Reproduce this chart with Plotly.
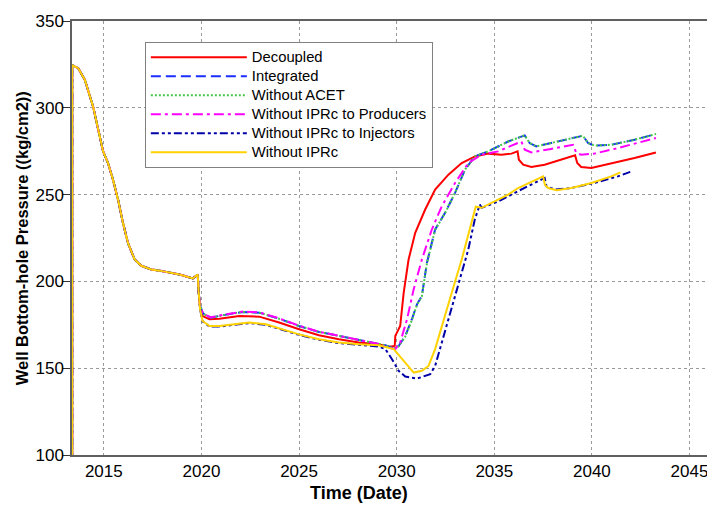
import plotly.graph_objects as go

# Shared early history (all cases identical before 2019.8)
hist_years = [2013.38, 2013.38, 2013.69, 2014.03, 2014.45, 2014.71, 2014.96, 2015.22, 2015.47,
              2015.73, 2015.98, 2016.24, 2016.58, 2016.92, 2017.43, 2017.86, 2018.88, 2019.56,
              2019.69, 2019.81]
hist_values = [0, 324.5, 322.8, 316, 300.7, 287, 275, 268, 258.6,
               247, 233.7, 222, 212.6, 209, 206.9, 206.2, 204, 201.7,
               202.7, 204]

decoupled_years = [2019.86, 2019.93, 2020.06, 2020.41, 2020.92, 2021.94, 2022.96, 2023.98, 2025.0,
                   2026.02, 2027.04, 2028.06, 2029.08, 2029.59, 2029.9, 2029.93, 2030.18, 2030.36,
                   2030.61, 2030.95, 2031.46, 2031.97, 2032.65, 2033.33, 2034.01, 2034.69, 2035.37,
                   2035.88, 2036.19, 2036.26, 2036.48, 2036.9, 2037.58, 2038.43, 2039.14, 2039.25,
                   2039.45, 2039.97, 2040.99, 2042.18, 2043.28]
decoupled_values = [193.5, 185, 180, 178.2, 178.5, 180, 179.7, 176.3, 172.4,
                    169, 166.7, 164.8, 163.8, 162.3, 162.8, 168.6, 174.3, 193.5,
                    212.6, 228, 241.4, 252.9, 261.5, 268.2, 272, 273.6, 273,
                    273.6, 274.9, 270.1, 267.2, 265.9, 267.2, 270.1, 272.6, 268.2,
                    265.9, 265.3, 267.8, 271.1, 274.3]

integrated_years = [2019.86, 2019.93, 2020.06, 2020.15, 2020.49, 2021.08, 2022.1, 2022.96, 2023.98,
                    2025.0, 2026.02, 2027.04, 2028.06, 2029.08, 2029.42, 2029.85, 2030.1, 2030.44,
                    2030.78, 2031.04, 2031.29, 2031.55, 2031.97, 2032.48, 2032.99, 2033.5, 2034.01,
                    2034.69, 2035.71, 2036.56, 2036.81, 2037.15, 2037.91, 2038.78, 2039.54, 2039.8,
                    2040.13, 2040.99, 2042.18, 2043.28]
integrated_values = [193.5, 186, 182, 181, 179.1, 180.5, 182.4, 182, 178.5,
                     174.3, 170.9, 168.6, 166.3, 163.8, 163.2, 161.3, 162.8, 168.6,
                     178.2, 186.8, 191.6, 210.8, 229.9, 239.5, 251, 264.4, 272,
                     274.9, 280.6, 284.1, 279.7, 277.8, 279.7, 281.6, 283.9, 279.7,
                     278.2, 278.7, 281.6, 284.9]

no_acet_years = [2019.86, 2019.93, 2020.06, 2020.15, 2020.49, 2021.08, 2022.1, 2022.96, 2023.98,
                 2025.0, 2026.02, 2027.04, 2028.06, 2029.08, 2029.42, 2029.85, 2030.1, 2030.44,
                 2030.78, 2031.04, 2031.29, 2031.55, 2031.97, 2032.48, 2032.99, 2033.5, 2034.01,
                 2034.69, 2035.71, 2036.56, 2036.81, 2037.15, 2037.91, 2038.78, 2039.54, 2039.8,
                 2040.13, 2040.99, 2042.18, 2043.28]
no_acet_values = [193.5, 186, 182, 181, 179.1, 180.5, 182.4, 182, 178.5,
                  174.3, 170.9, 168.6, 166.3, 163.8, 163.2, 161.3, 162.6, 168.2,
                  177.8, 186.5, 191.4, 210.5, 229.7, 239.4, 251, 264.4, 272,
                  274.9, 280.6, 284.1, 279.7, 277.8, 279.7, 281.6, 283.9, 279.7,
                  278.2, 278.7, 281.6, 284.9]

no_iprc_prod_years = [2019.86, 2019.93, 2020.06, 2020.15, 2020.49, 2021.08, 2022.1, 2022.96, 2023.98,
                      2025.0, 2026.02, 2027.04, 2028.06, 2029.08, 2029.5, 2029.93, 2030.18, 2030.53,
                      2030.87, 2031.29, 2031.8, 2032.31, 2032.99, 2033.67, 2034.35, 2035.2, 2035.88,
                      2036.39, 2036.56, 2036.9, 2037.91, 2039.03, 2039.2, 2039.45, 2040.13, 2041.33,
                      2043.28]
no_iprc_prod_values = [193.5, 186, 182, 181, 179.3, 180.7, 182.6, 182.2, 178.7,
                       174.5, 171, 168.7, 166.4, 163.9, 162, 161, 164.8, 178.2,
                       195.4, 212.6, 229.9, 243.3, 256.7, 268.2, 273, 274.9, 278.2,
                       280.6, 275.9, 274.3, 276.3, 278.7, 274, 273, 273.6, 276.8,
                       282.6]

no_iprc_inj_years = [2019.86, 2019.93, 2020.06, 2020.41, 2020.92, 2021.6, 2022.45, 2023.3, 2024.15,
                     2025.0, 2026.02, 2027.04, 2028.06, 2029.08, 2029.42, 2029.76, 2030.1, 2030.44,
                     2031.04, 2031.72, 2031.97, 2032.22, 2032.65, 2033.16, 2033.67, 2034.0, 2034.26,
                     2034.35, 2035.2, 2036.22, 2037.33, 2037.58, 2037.67, 2038.1, 2038.95, 2040.13,
                     2041.33, 2042.04]
no_iprc_inj_values = [193.5, 184, 177, 174, 174, 175, 176, 175, 172,
                      169.2, 166.4, 164.5, 163.5, 162.5, 161, 155.2, 148.5, 145.2,
                      144, 146.6, 151.3, 161, 178.2, 197.3, 218.4, 235.6, 244.3,
                      242.4, 246, 252, 258.6, 259.6, 254.8, 252.9, 253.8, 256.7,
                      260.5, 263.4]

no_iprc_years = [2019.86, 2019.93, 2020.06, 2020.41, 2020.92, 2021.6, 2022.45, 2023.3, 2024.15,
                 2025.0, 2026.02, 2027.04, 2028.06, 2029.08, 2029.85, 2030.27, 2030.87, 2031.29,
                 2031.63, 2031.97, 2032.31, 2032.82, 2033.33, 2033.98, 2034.05, 2034.35, 2035.03,
                 2035.71, 2036.22, 2037.07, 2037.5, 2037.59, 2037.76, 2038.19, 2038.95, 2039.97,
                 2040.99, 2041.46]
no_iprc_values = [193.5, 184, 177.2, 174.3, 174.3, 175.3, 176.3, 175.3, 172.4,
                  169.5, 166.7, 164.8, 163.8, 163.2, 161, 155.2, 147.5, 148.5,
                  151.3, 161, 174.3, 193.5, 212.6, 241.4, 243, 242.4, 246,
                  250, 253.8, 258.2, 260.5, 255.7, 253.8, 252.5, 253.8, 256.7,
                  260.5, 262.8]

x_ticks = [2015, 2020, 2025, 2030, 2035, 2040, 2045]
y_ticks = [100, 150, 200, 250, 300, 350]

series = [
    ("Decoupled", decoupled_years, decoupled_values, "#FF0000", "solid"),
    ("Integrated", integrated_years, integrated_values, "#1A2EFF", "10px,5px"),
    ("Without ACET", no_acet_years, no_acet_values, "#45C845", "2px,2px"),
    ("Without IPRc to Producers", no_iprc_prod_years, no_iprc_prod_values, "#FF00FF", "10px,4px,3px,4px"),
    ("Without IPRc to Injectors", no_iprc_inj_years, no_iprc_inj_values, "#0000A8", "8px,3px,3px,3px,3px,3px"),
    ("Without IPRc", no_iprc_years, no_iprc_values, "#FFD200", "solid"),
]

fig = go.Figure()
for name, yrs, vals, color, dash in series:
    fig.add_trace(go.Scatter(
        x=hist_years + yrs, y=hist_values + vals, mode="lines",
        name='<span style="font-size:14.8px">' + name + '</span>',
        line=dict(color=color, width=2, dash=dash),
    ))

font_main = "Arial, 'Liberation Sans', sans-serif"
fig.update_layout(
    width=707, height=504,
    margin=dict(l=64, r=2, t=13, b=57),
    paper_bgcolor="white", plot_bgcolor="white",
    font=dict(family=font_main, color="#000"),
    showlegend=True,
    legend=dict(
        x=0.114, y=0.952, xanchor="left", yanchor="top",
        bgcolor="white", bordercolor="#808080", borderwidth=1,
        font=dict(size=11, family=font_main),
        itemwidth=96, tracegroupgap=0,
    ),
    xaxis=dict(
        range=[2013.37, 2046.1], tickvals=x_ticks, ticktext=[str(t) for t in x_ticks],
        showgrid=True, gridcolor="#9a9a9a", griddash="dot", gridwidth=1,
        showline=True, linecolor="#606060", linewidth=1.5, mirror=True,
        ticks="", tickfont=dict(size=17), zeroline=False,
    ),
    yaxis=dict(
        range=[100, 350], tickvals=y_ticks,
        showgrid=True, gridcolor="#9a9a9a", griddash="dot", gridwidth=1,
        showline=True, linecolor="#606060", linewidth=1.5, mirror=True,
        ticks="outside", ticklen=7, tickcolor="#333", ticklabelstandoff=-4,
        tickfont=dict(size=17), zeroline=False,
    ),
    annotations=[
        dict(text="<b>Time (Date)</b>", xref="paper", yref="paper", x=0.449, y=-0.0876,
             xanchor="center", yanchor="middle", showarrow=False, font=dict(size=18)),
        dict(text="<b>Well Bottom-hole Pressure ((kg/cm2))</b>", xref="paper", yref="paper",
             x=-0.078, y=0.5, xanchor="center", yanchor="middle", textangle=-90,
             showarrow=False, font=dict(size=16.5)),
    ],
)

fig.write_html("out.html")
